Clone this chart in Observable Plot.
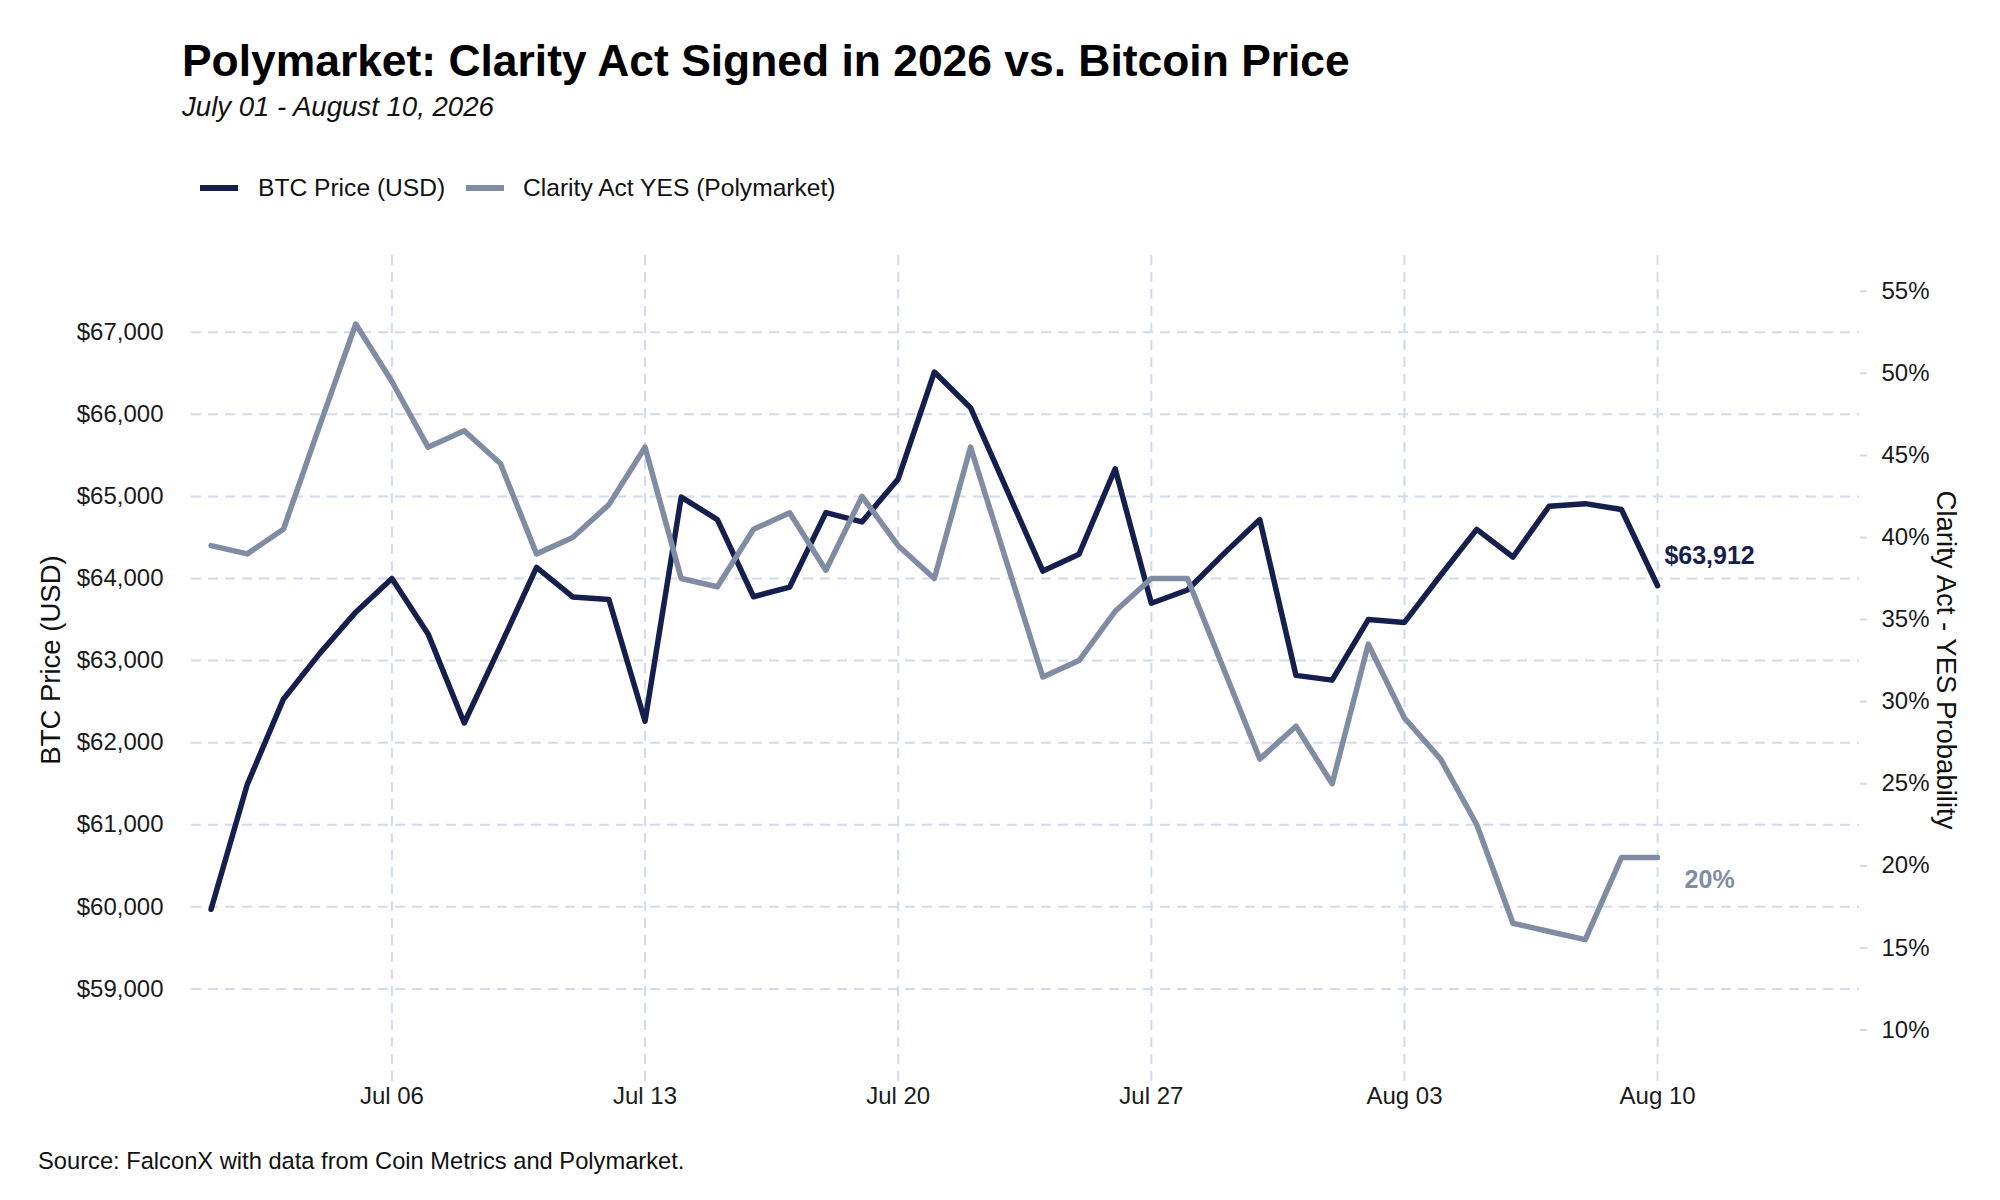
<!DOCTYPE html>
<html>
<head>
<meta charset="utf-8">
<script src="https://cdn.jsdelivr.net/npm/d3@7"></script>
<script src="https://cdn.jsdelivr.net/npm/@observablehq/plot@0.6"></script>
<style>
  body { margin: 0; background: #fff; font-family: "Liberation Sans", Arial, sans-serif; color: #111; }
  #wrap { position: relative; width: 2000px; height: 1200px; overflow: hidden; background: #fff; }
  .abs { position: absolute; white-space: nowrap; line-height: 1; }
  #title { left: 182px; top: 39px; font-size: 44.4px; font-weight: bold; color: #000; }
  #subtitle { left: 182px; top: 93px; font-size: 27.6px; font-style: italic; color: #111; }
  .sw { position: absolute; height: 6px; width: 38px; }
  .lg { font-size: 24.6px; color: #111; }
  #chart { position: absolute; left: 0; top: 220px; }
  #source { left: 38px; top: 1150px; font-size: 23.7px; color: #111; }
</style>
</head>
<body>
<div id="wrap">
  <div id="title" class="abs">Polymarket: Clarity Act Signed in 2026 vs. Bitcoin Price</div>
  <div id="subtitle" class="abs">July 01 - August 10, 2026</div>
  <div id="legend"></div>
  <div id="chart"></div>
  <div id="source" class="abs">Source: FalconX with data from Coin Metrics and Polymarket.</div>
</div>
<script>
// ---- data ----
const dates = [
  "2026-07-01","2026-07-02","2026-07-03","2026-07-04","2026-07-05","2026-07-06","2026-07-07",
  "2026-07-08","2026-07-09","2026-07-10","2026-07-11","2026-07-12","2026-07-13","2026-07-14",
  "2026-07-15","2026-07-16","2026-07-17","2026-07-18","2026-07-19","2026-07-20","2026-07-21",
  "2026-07-22","2026-07-23","2026-07-24","2026-07-25","2026-07-26","2026-07-27","2026-07-28",
  "2026-07-29","2026-07-30","2026-07-31","2026-08-01","2026-08-02","2026-08-03","2026-08-04",
  "2026-08-05","2026-08-06","2026-08-07","2026-08-08","2026-08-09","2026-08-10"
];
const btcPrice = [
  59970, 61490, 62530, 63085, 63590, 64000, 63325,
  62240, 63180, 64135, 63775, 63745, 62262, 64992,
  64718, 63778, 63896, 64803, 64690, 65213, 66515,
  66081, 65085, 64090, 64295, 65336, 63698, 63860,
  64300, 64718, 62820, 62762, 63500, 63465, 64040,
  64598, 64262, 64880, 64912, 64840, 63912
];
const clarityYes = [
  39.5, 39.0, 40.5, 46.8, 53.0, 49.5, 45.5,
  46.5, 44.5, 39.0, 40.0, 42.0, 45.5, 37.5,
  37.0, 40.5, 41.5, 38.0, 42.5, 39.5, 37.5,
  45.5, 38.5, 31.5, 32.5, 35.5, 37.5, 37.5,
  32.0, 26.5, 28.5, 25.0, 33.5, 29.0, 26.5,
  22.5, 16.5, 16.0, 15.5, 20.5, 20.5
];
const btcTicks = [59000, 60000, 61000, 62000, 63000, 64000, 65000, 66000, 67000];
const pctTicks = [10, 15, 20, 25, 30, 35, 40, 45, 50, 55];
const xTickDates = ["2026-07-06","2026-07-13","2026-07-20","2026-07-27","2026-08-03","2026-08-10"];
const seriesNames = ["BTC Price (USD)", "Clarity Act YES (Polymarket)"];
const seriesColors = ["#141f4e", "#7f8ca4"];
const yTitleLeft = "BTC Price (USD)";
const yTitleRight = "Clarity Act - YES Probability";

// secondary axis transform (percent <-> BTC price space)
const SEC_OFFSET = 56500, SEC_SCALE = 200;
const toBtc = p => SEC_OFFSET + SEC_SCALE * p;
const fromBtc = v => (v - SEC_OFFSET) / SEC_SCALE;

// round half to even (as R's round does)
const roundEven = x => {
  const f = Math.floor(x), diff = x - f;
  if (Math.abs(diff - 0.5) < 1e-9) return f % 2 === 0 ? f : f + 1;
  return Math.round(x);
};

const parse = s => new Date(s + "T00:00:00Z");
const btcRows = dates.map((d, i) => ({date: parse(d), value: btcPrice[i]}));
const clarityRows = dates.map((d, i) => ({date: parse(d), value: clarityYes[i]}));
const xTicks = xTickDates.map(parse);

const first = parse(dates[0]), last = parse(dates[dates.length - 1]);
const xDomain = [d3.utcHour.offset(first, -12.6), d3.utcHour.offset(last, 134)];
const yDomain = [57860, 67935];

const gridColor = "#d0dbed";
const fmtUsd = d3.format(",");

// ---- legend ----
const legend = document.getElementById("legend");
const legendPos = [{sw: 200, tx: 258}, {sw: 466, tx: 523}];
seriesNames.forEach((name, i) => {
  const sw = document.createElement("div");
  sw.className = "sw";
  sw.style.left = legendPos[i].sw + "px";
  sw.style.top = "185px";
  sw.style.background = seriesColors[i];
  legend.appendChild(sw);
  const t = document.createElement("div");
  t.className = "abs lg";
  t.style.left = legendPos[i].tx + "px";
  t.style.top = "176px";
  t.textContent = name;
  legend.appendChild(t);
});

// ---- chart ----
const chart = Plot.plot({
  width: 2000,
  height: 900,
  marginTop: 35,
  marginBottom: 38,
  marginLeft: 191,
  marginRight: 141,
  style: {fontFamily: "'Liberation Sans', Arial, sans-serif", fontSize: "24px", color: "#1a1a1a", background: "#fff"},
  x: {type: "utc", domain: xDomain},
  y: {domain: yDomain},
  marks: [
    Plot.gridY(btcTicks, {stroke: gridColor, strokeOpacity: 1, strokeWidth: 2, strokeDasharray: "10,7"}),
    Plot.gridX(xTicks, {stroke: gridColor, strokeOpacity: 1, strokeWidth: 2, strokeDasharray: "10,7"}),
    Plot.axisY(btcTicks, {anchor: "left", tickSize: 0, tickPadding: 28, tickFormat: d => "$" + fmtUsd(d), label: null, fontSize: 24}),
    Plot.axisY(pctTicks.map(toBtc), {anchor: "right", tickSize: 7, tickPadding: 15, stroke: gridColor, strokeWidth: 2, fill: "#1a1a1a",
      tickFormat: v => Math.round(fromBtc(v)) + "%", label: null, fontSize: 24}),
    Plot.axisX(xTicks, {anchor: "bottom", tickSize: 0, tickPadding: 4, tickFormat: d3.utcFormat("%b %d"), label: null, fontSize: 24}),
    Plot.text([yTitleLeft], {frameAnchor: "left", dx: -140, dy: -9, rotate: -90, text: d => d, textAnchor: "middle", lineAnchor: "middle", fontSize: 27.5, fill: "#111"}),
    Plot.text([yTitleRight], {frameAnchor: "right", dx: 86, dy: -9, rotate: 90, text: d => d, textAnchor: "middle", lineAnchor: "middle", fontSize: 27.5, fill: "#111"}),
    Plot.line(btcRows, {x: "date", y: "value", stroke: seriesColors[0], strokeWidth: 5.5, strokeLinejoin: "round"}),
    Plot.line(clarityRows, {x: "date", y: d => toBtc(d.value), stroke: seriesColors[1], strokeWidth: 5.5, strokeLinejoin: "round"}),
    Plot.text(btcRows.slice(-1), {x: "date", y: "value", text: d => "$" + fmtUsd(d.value), dx: 52, dy: -30,
      fill: seriesColors[0], fontWeight: "bold", fontSize: 25, textAnchor: "middle"}),
    Plot.text(clarityRows.slice(-1), {x: "date", y: d => toBtc(d.value), text: d => roundEven(d.value) + "%", dx: 52, dy: 22,
      fill: seriesColors[1], fontWeight: "bold", fontSize: 25, textAnchor: "middle"})
  ]
});
document.getElementById("chart").appendChild(chart);
</script>
</body>
</html>
